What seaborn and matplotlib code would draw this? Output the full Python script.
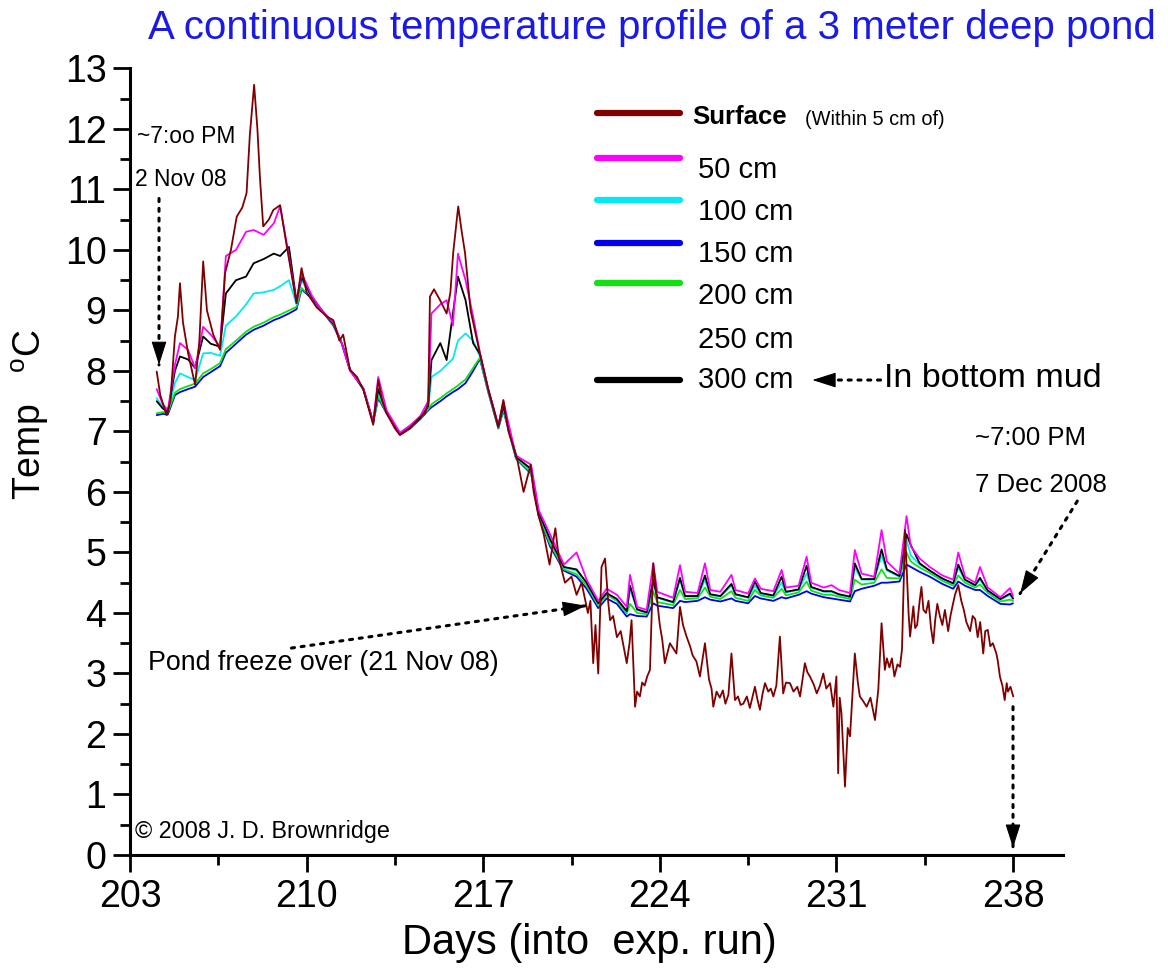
import numpy as np
import pandas as pd
import matplotlib
matplotlib.use("Agg")
import matplotlib.pyplot as plt
import seaborn as sns
from matplotlib.ticker import MultipleLocator

# common time grid for the sub-surface sensors (days into experiment run)
days = [204.06, 204.3, 204.5, 204.78, 204.98, 205.3, 205.58, 205.9, 206.2, 206.57,
        206.8, 207.2, 207.6, 207.9, 208.3, 208.7, 208.95, 209.3, 209.6, 209.8,
        210.2, 210.6, 211.06, 211.4, 211.72, 212.25, 212.64, 212.84, 213.17, 213.7,
        214.1, 214.5, 214.82, 214.95, 215.3, 215.55, 215.8, 216.0, 216.3, 216.6,
        216.87, 217.2, 217.6, 217.8, 218.3, 218.9, 219.2, 219.65, 220.2, 220.7,
        221.1, 221.56, 221.89, 222.3, 222.69, 222.82, 223.1, 223.48, 223.74, 223.9,
        224.53, 224.8, 225.0, 225.5, 225.79, 226.0, 226.4, 226.84, 227.0, 227.5,
        227.77, 228.0, 228.5, 228.83, 229.0, 229.5, 229.82, 230.0, 230.5, 230.81,
        231.1, 231.54, 231.73, 232.0, 232.5, 232.79, 233.0, 233.5, 233.78, 233.95,
        234.3, 234.7, 235.2, 235.63, 235.83, 236.1, 236.5, 236.69, 237.0, 237.5,
        237.88, 238.0]

t150 = [7.27, 7.29, 7.28, 7.60, 7.65, 7.70, 7.74, 7.90, 7.98, 8.08,
        8.30, 8.45, 8.60, 8.68, 8.75, 8.84, 8.88, 8.95, 9.02, 9.35,
        9.20, 9.00, 8.75, 8.45, 8.02, 7.70, 7.15, 7.55, 7.30, 6.95,
        7.05, 7.20, 7.35, 7.40, 7.50, 7.58, 7.65, 7.70, 7.80, 8.00,
        8.20, 7.65, 7.05, 7.35, 6.55, 6.30, 5.60, 5.10, 4.70, 4.60,
        4.40, 4.08, 4.24, 4.15, 3.94, 3.98, 3.95, 3.94, 4.16, 4.12,
        4.08, 4.20, 4.18, 4.20, 4.26, 4.22, 4.19, 4.24, 4.20, 4.16,
        4.28, 4.24, 4.20, 4.26, 4.24, 4.30, 4.36, 4.32, 4.26, 4.24,
        4.22, 4.19, 4.36, 4.40, 4.45, 4.50, 4.50, 4.52, 4.80, 4.76,
        4.68, 4.60, 4.48, 4.40, 4.52, 4.45, 4.38, 4.38, 4.28, 4.15,
        4.14, 4.16]

t200 = [7.30, 7.32, 7.31, 7.64, 7.70, 7.75, 7.79, 7.96, 8.03, 8.13,
        8.36, 8.50, 8.65, 8.73, 8.80, 8.89, 8.93, 9.00, 9.06, 9.37,
        9.21, 9.01, 8.76, 8.46, 8.02, 7.70, 7.15, 7.58, 7.31, 6.96,
        7.06, 7.21, 7.37, 7.45, 7.55, 7.63, 7.70, 7.76, 7.86, 8.05,
        8.22, 7.66, 7.06, 7.37, 6.56, 6.32, 5.62, 5.14, 4.72, 4.64,
        4.45, 4.12, 4.30, 4.20, 3.99, 4.15, 4.00, 3.98, 4.35, 4.18,
        4.13, 4.38, 4.23, 4.24, 4.42, 4.27, 4.23, 4.36, 4.25, 4.20,
        4.38, 4.29, 4.25, 4.40, 4.29, 4.34, 4.52, 4.37, 4.30, 4.30,
        4.27, 4.23, 4.55, 4.47, 4.50, 4.72, 4.58, 4.57, 5.00, 4.85,
        4.75, 4.66, 4.53, 4.45, 4.62, 4.50, 4.42, 4.47, 4.33, 4.19,
        4.22, 4.20]

t100 = [7.55, 7.40, 7.33, 7.80, 7.96, 7.90, 7.85, 8.29, 8.30, 8.25,
        8.75, 8.90, 9.10, 9.28, 9.30, 9.34, 9.40, 9.50, 9.10, 9.50,
        9.22, 9.00, 8.78, 8.45, 8.02, 7.70, 7.15, 7.65, 7.32, 6.96,
        7.07, 7.22, 7.40, 7.90, 8.00, 8.10, 8.20, 8.50, 8.62, 8.50,
        8.24, 7.68, 7.08, 7.40, 6.58, 6.35, 5.65, 5.20, 4.75, 4.70,
        4.50, 4.15, 4.32, 4.22, 4.02, 4.40, 4.05, 4.00, 4.50, 4.25,
        4.17, 4.55, 4.27, 4.27, 4.55, 4.30, 4.27, 4.45, 4.30, 4.25,
        4.45, 4.32, 4.28, 4.50, 4.34, 4.38, 4.65, 4.42, 4.35, 4.35,
        4.30, 4.26, 4.75, 4.55, 4.55, 4.95, 4.70, 4.60, 5.20, 4.95,
        4.80, 4.70, 4.56, 4.48, 4.75, 4.54, 4.45, 4.55, 4.36, 4.22,
        4.30, 4.23]

t300 = [7.50, 7.38, 7.32, 8.00, 8.24, 8.19, 8.05, 8.57, 8.45, 8.40,
        9.28, 9.50, 9.56, 9.78, 9.85, 9.94, 9.90, 10.05, 9.15, 9.55,
        9.23, 9.00, 8.78, 8.45, 8.02, 7.70, 7.15, 7.70, 7.32, 6.96,
        7.07, 7.22, 7.42, 8.18, 8.46, 8.18, 8.95, 9.56, 9.17, 8.46,
        8.28, 7.69, 7.08, 7.42, 6.58, 6.38, 5.66, 5.22, 4.76, 4.72,
        4.50, 4.16, 4.33, 4.23, 4.03, 4.45, 4.06, 4.01, 4.55, 4.26,
        4.18, 4.58, 4.28, 4.28, 4.62, 4.31, 4.28, 4.48, 4.31, 4.26,
        4.52, 4.33, 4.29, 4.60, 4.35, 4.39, 4.78, 4.43, 4.36, 4.36,
        4.31, 4.27, 4.82, 4.56, 4.56, 5.05, 4.72, 4.61, 5.30, 5.12,
        4.82, 4.70, 4.57, 4.49, 4.80, 4.55, 4.46, 4.58, 4.37, 4.23,
        4.32, 4.24]

t50 = [7.70, 7.45, 7.35, 8.10, 8.46, 8.35, 8.05, 8.73, 8.60, 8.40,
       9.90, 10.00, 10.30, 10.33, 10.25, 10.44, 10.72, 9.90, 9.12, 9.62,
       9.25, 9.00, 8.80, 8.45, 8.00, 7.72, 7.15, 7.90, 7.35, 6.98,
       7.10, 7.25, 7.50, 8.95, 9.10, 9.17, 8.75, 9.94, 9.50, 8.90,
       8.30, 7.70, 7.10, 7.50, 6.60, 6.45, 5.70, 5.30, 4.80, 5.00,
       4.55, 4.20, 4.40, 4.30, 4.10, 4.63, 4.10, 4.05, 4.82, 4.35,
       4.25, 4.79, 4.35, 4.33, 4.82, 4.38, 4.35, 4.63, 4.38, 4.32,
       4.57, 4.40, 4.36, 4.71, 4.42, 4.45, 4.93, 4.50, 4.42, 4.46,
       4.38, 4.33, 5.04, 4.65, 4.60, 5.37, 4.85, 4.65, 5.60, 5.10,
       4.90, 4.76, 4.62, 4.55, 5.00, 4.60, 4.50, 4.76, 4.42, 4.26,
       4.41, 4.28]

# surface sensor (within 5 cm of the surface)
surf_days = [204.06, 204.2, 204.45, 204.6, 204.78, 204.9, 204.98, 205.1, 205.3, 205.58,
             205.75, 205.9, 206.05, 206.3, 206.57, 206.77, 207.0, 207.23, 207.45, 207.62,
             207.75, 207.92, 208.05, 208.15, 208.28, 208.5, 208.68, 208.95, 209.2, 209.6,
             209.8, 210.0, 210.4, 210.8, 211.06, 211.3, 211.45, 211.72, 212.0, 212.25,
             212.64, 212.84, 213.0, 213.17, 213.5, 213.7, 214.1, 214.5, 214.7, 214.82,
             214.89, 215.05, 215.29, 215.55, 215.7, 215.81, 216.01, 216.15, 216.28, 216.5,
             216.87, 217.2, 217.4, 217.6, 217.8, 218.0, 218.33, 218.6, 218.88, 219.0,
             219.18, 219.4, 219.63, 219.86, 220.0, 220.24, 220.5, 220.7, 220.9, 221.15,
             221.25, 221.36, 221.45, 221.56, 221.69, 221.83, 221.96, 222.03, 222.15, 222.3,
             222.45, 222.69, 222.8, 222.88, 223.02, 223.1, 223.21, 223.3, 223.4, 223.5,
             223.61, 223.74, 223.87, 224.0, 224.1, 224.2, 224.4, 224.66, 224.8, 224.92,
             225.06, 225.2, 225.3, 225.45, 225.59, 225.79, 225.95, 226.05, 226.12, 226.25,
             226.38, 226.5, 226.6, 226.72, 226.84, 226.98, 227.1, 227.2, 227.31, 227.45,
             227.57, 227.77, 227.88, 227.97, 228.07, 228.17, 228.3, 228.4, 228.5, 228.62,
             228.76, 228.89, 229.0, 229.16, 229.3, 229.45, 229.56, 229.75, 229.85, 229.95,
             230.1, 230.22, 230.35, 230.48, 230.6, 230.75, 230.88, 231.0, 231.07, 231.13,
             231.2, 231.34, 231.45, 231.54, 231.73, 231.85, 231.93, 232.05, 232.2, 232.35,
             232.53, 232.66, 232.79, 232.92, 233.0, 233.1, 233.2, 233.3, 233.42, 233.52,
             233.6, 233.72, 233.8, 233.86, 233.92, 234.05, 234.12, 234.2, 234.3, 234.37,
             234.45, 234.55, 234.65, 234.75, 234.84, 234.92, 235.0, 235.1, 235.2, 235.3,
             235.43, 235.52, 235.6, 235.7, 235.83, 235.95, 236.05, 236.15, 236.3, 236.4,
             236.5, 236.6, 236.7, 236.82, 236.9, 237.0, 237.1, 237.2, 237.34, 237.4,
             237.48, 237.58, 237.67, 237.75, 237.8, 237.9, 238.01]
surf_temp = [7.99, 7.60, 7.27, 7.50, 8.57, 8.90, 9.45, 8.80, 8.30, 7.77,
             8.50, 9.81, 9.00, 8.60, 8.35, 9.62, 10.00, 10.55, 10.70, 10.94,
             11.90, 12.73, 12.00, 11.20, 10.39, 10.50, 10.66, 10.74, 10.10, 9.12,
             9.70, 9.30, 9.05, 8.90, 8.84, 8.50, 8.60, 8.02, 7.90, 7.69,
             7.11, 7.85, 7.50, 7.30, 7.05, 6.94, 7.05, 7.24, 7.30, 7.47,
             9.23, 9.35, 9.17, 8.95, 9.30, 9.95, 10.72, 10.30, 9.95, 9.00,
             8.29, 7.70, 7.40, 7.08, 7.52, 7.00, 6.58, 6.00, 6.45, 6.00,
             5.63, 5.30, 4.80, 5.40, 4.90, 4.50, 4.60, 4.30, 4.50, 4.00,
             4.20, 3.17, 3.80, 3.00, 4.76, 4.90, 4.16, 3.88, 3.95, 3.60,
             3.70, 3.17, 3.50, 3.88, 2.45, 2.70, 2.62, 2.85, 2.80, 2.95,
             3.06, 4.82, 4.30, 3.80, 3.55, 3.17, 3.50, 3.33, 4.10, 3.80,
             3.61, 3.45, 3.30, 3.20, 2.95, 3.50, 2.90, 2.75, 2.45, 2.70,
             2.60, 2.72, 2.50, 2.65, 3.33, 2.56, 2.62, 2.48, 2.50, 2.62,
             2.43, 2.78, 2.55, 2.40, 2.66, 2.84, 2.70, 2.75, 2.62, 2.80,
             3.61, 2.67, 2.85, 2.84, 2.70, 2.78, 2.62, 3.17, 3.02, 2.95,
             2.82, 2.67, 2.80, 3.00, 2.75, 2.84, 2.45, 2.95, 1.35, 2.60,
             2.34, 1.13, 2.10, 1.96, 3.33, 2.85, 2.62, 2.55, 2.45, 2.60,
             2.23, 2.73, 3.83, 3.06, 3.25, 3.10, 3.25, 2.95, 3.15, 3.11,
             3.40, 5.37, 4.60, 4.00, 3.61, 4.11, 3.75, 3.80, 4.20, 4.43,
             4.05, 4.00, 4.20, 3.75, 3.50, 3.90, 4.15, 3.95, 3.80, 4.05,
             3.70, 3.95, 4.11, 4.30, 4.46, 4.20, 4.05, 3.85, 3.70, 3.95,
             3.90, 3.60, 3.85, 3.33, 3.70, 3.72, 3.45, 3.50, 3.33, 3.20,
             2.95, 2.80, 2.56, 2.84, 2.70, 2.78, 2.62]

depth_labels = ["150 cm", "200 cm", "100 cm", "300 cm", "50 cm"]
depth_series = [t150, t200, t100, t300, t50]
depth_colors = {"50 cm": "#ff00ff", "100 cm": "#00eaf2", "150 cm": "#0000ee",
                "200 cm": "#11e011", "300 cm": "#000000"}
surface_color = "#800000"

# hand-drawn legend rows
legend_labels = ["50 cm", "100 cm", "150 cm", "200 cm", "250 cm", "300 cm"]
legend_colors = ["#ff00ff", "#00eaf2", "#0000ee", "#11e011", None, "#000000"]
legend_line_y = [11.52, 10.83, 10.12, 9.45, None, 7.85]
legend_text_y = [11.32, 10.63, 9.93, 9.24, 8.51, 7.85]

rows = []
for lab, vals in zip(depth_labels, depth_series):
    for d, v in zip(days, vals):
        rows.append({"day": d, "temp": v, "depth": lab})
df = pd.DataFrame(rows)
surf = pd.DataFrame({"day": surf_days, "temp": surf_temp})

sns.set_style("ticks")
plt.rcParams['font.family'] = ['Liberation Sans', 'DejaVu Sans']
plt.rcParams['text.color'] = 'black'
plt.rcParams['xtick.color'] = 'black'
plt.rcParams['ytick.color'] = 'black'
plt.rcParams['axes.edgecolor'] = 'black'

fig = plt.figure(figsize=(11.68, 9.71), dpi=100)
ax = fig.add_axes([0.1113, 0.1195, 0.7992, 0.8100])

sns.lineplot(data=df, x="day", y="temp", hue="depth", hue_order=depth_labels,
             palette=depth_colors, estimator=None, sort=False, legend=False,
             lw=1.3, ax=ax)
sns.lineplot(data=surf, x="day", y="temp", color=surface_color, estimator=None,
             sort=False, lw=1.3, ax=ax)

ax.set_xlim(203, 240)
ax.set_ylim(0, 13)
ax.set_xticks([203, 210, 217, 224, 231, 238])
ax.xaxis.set_minor_locator(MultipleLocator(3.5))
ax.set_yticks(range(0, 14))
ax.yaxis.set_minor_locator(MultipleLocator(0.5))
ax.tick_params(which="major", length=12, width=2, labelsize=27, pad=5, direction="out")
ax.tick_params(which="minor", length=7, width=2, direction="out")
ax.set_xlabel("")
ax.set_ylabel("")
sns.despine(ax=ax)
for s in ["left", "bottom"]:
    ax.spines[s].set_linewidth(2.2)

fig.text(0.558, 0.971, "A continuous temperature profile of a 3 meter deep pond",
         ha="center", va="center", fontsize=29, color="#1a1ae6")
fig.text(0.505, 0.029, "Days (into  exp. run)", ha="center", va="center", fontsize=30)
fig.text(0.026, 0.573, "Temp   $^{\\mathregular{o}}$C", rotation=90, ha="center",
         va="center", fontsize=27)


def dotted_arrow(start, end, head_px=20):
    # dotted shaft plus a solid filled head, like the hand-made arrows in the original
    ax.annotate("", xy=end, xytext=start, annotation_clip=False,
                arrowprops=dict(arrowstyle="-", linestyle=(0, (1, 2.2)), lw=2.2,
                                color="k", shrinkA=0, shrinkB=0))
    p0 = ax.transData.transform(start)
    p1 = ax.transData.transform(end)
    u = (p1 - p0) / np.hypot(*(p1 - p0))
    back = ax.transData.inverted().transform(p1 - u * head_px)
    ax.annotate("", xy=end, xytext=tuple(back), annotation_clip=False,
                arrowprops=dict(arrowstyle="-|>,head_length=0.75,head_width=0.24",
                                mutation_scale=20, lw=0.8, color="k",
                                shrinkA=0, shrinkB=0))


# legend drawn by hand as in the original
ax.plot([221.51, 224.8], [12.26, 12.26], color=surface_color, lw=4.5,
        solid_capstyle="round", clip_on=False)
ax.text(225.28, 12.2, "Surface", fontsize=18.5, fontweight="bold", va="center")
ax.text(229.75, 12.15, "(Within 5 cm of)", fontsize=14.4, va="center")
for lab, col, ly, ty in zip(legend_labels, legend_colors, legend_line_y, legend_text_y):
    if col is not None:
        ax.plot([221.51, 224.8], [ly, ly], color=col, lw=4.5, solid_capstyle="round")
    ax.text(225.5, ty, lab, fontsize=21, va="center")

dotted_arrow((232.75, 7.85), (230.05, 7.85), head_px=18)
ax.text(232.9, 7.88, "In bottom mud", fontsize=24.5, va="center")

ax.text(203.28, 11.87, "~7:oo PM", fontsize=16.5, va="center")
ax.text(203.2, 11.16, "2 Nov 08", fontsize=16.5, va="center")
dotted_arrow((204.15, 10.85), (204.15, 8.1))

ax.text(203.71, 3.17, "Pond freeze over (21 Nov 08)", fontsize=19.3, va="center")
dotted_arrow((209.4, 3.42), (221.07, 4.12))

ax.text(236.49, 6.9, "~7:00 PM", fontsize=18.5, va="center")
ax.text(236.49, 6.12, "7 Dec 2008", fontsize=18.5, va="center")
dotted_arrow((240.55, 5.85), (238.28, 4.32))
dotted_arrow((238.0, 2.45), (238.0, 0.12))

ax.text(203.2, 0.38, "\u00a9 2008 J. D. Brownridge", fontsize=16.8, va="center")

fig.savefig("out.png", dpi=100)
